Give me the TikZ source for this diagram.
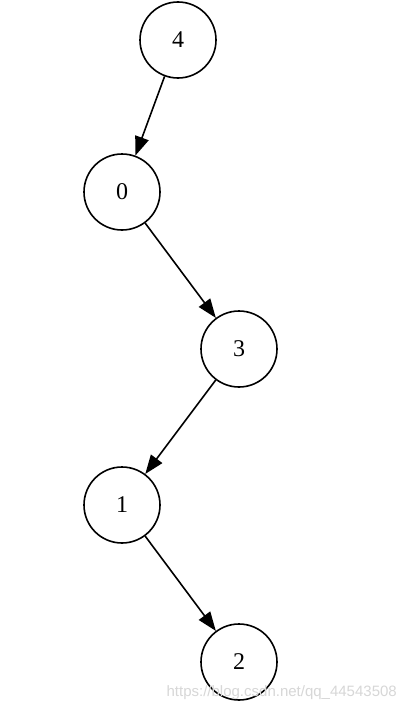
\documentclass[tikz,border=0pt]{standalone}
\usepackage{fontspec}
\setmainfont{Liberation Serif}
\newfontfamily\wmfont{Liberation Sans}
\usetikzlibrary{arrows.meta}
\definecolor{wmgray}{RGB}{215,215,215}
\tikzset{
  treenode/.style={circle, draw=black, line width=1.6pt, minimum size=76pt, inner sep=0pt, font=\fontsize{24}{28}\selectfont},
  treeedge/.style={line width=1.6pt, -{Triangle[length=19pt,width=14pt]}}
}
\begin{document}
\begin{tikzpicture}[x=1pt,y=-1pt]
\useasboundingbox[fill=white] (0,0) rectangle (407,709);
\node[treenode] (n4) at (178,40) {4};
\node[treenode] (n0) at (122,192) {0};
\node[treenode] (n3) at (239,349) {3};
\node[treenode] (n1) at (122,505) {1};
\node[treenode] (n2) at (239,662) {2};
\draw[treeedge] (n4) -- (n0);
\draw[treeedge] (n0) -- (n3);
\draw[treeedge] (n3) -- (n1);
\draw[treeedge] (n1) -- (n2);
\node[anchor=base east, inner sep=0pt, text=wmgray, font=\wmfont\fontsize{15}{17}\selectfont] (wm) at (397,696) {https://blog.csdn.net/qq\_44543508};
\end{tikzpicture}
\end{document}
